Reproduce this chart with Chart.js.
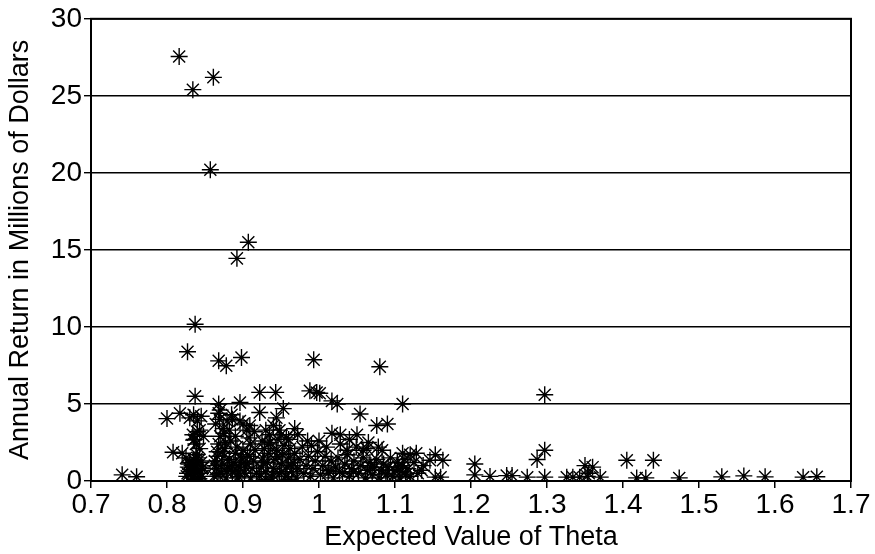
<!DOCTYPE html>
<html>
<head>
<meta charset="utf-8">
<script src="https://cdn.jsdelivr.net/npm/chart.js@4/dist/chart.umd.min.js"></script>
<style>
  html, body { margin: 0; padding: 0; background: #fff; }
  #wrap { width: 875px; height: 554px; }
</style>
</head>
<body>
<div id="wrap"><canvas id="thetaChart" width="875" height="554"></canvas></div>
<script>
// values (x = expected theta, y = annual return, $M)
const thetaValues = [
  // isolated high points
  0.816, 0.861, 0.834, 0.857, 0.907, 0.892, 0.837, 0.827, 0.868, 0.878, 0.898, 0.993, 1.080, 1.297,
  // around 5
  0.837, 0.922, 0.943, 0.988, 0.997, 1.001, 1.017, 1.024, 1.110, 0.868, 0.896,
  // around 4
  0.800, 0.817, 0.830, 0.835, 0.840, 0.845, 0.868, 0.879, 0.896, 0.909, 0.922, 0.953, 0.944, 0.940,
  1.054, 1.076, 1.090, 0.870, 0.885,
  // around 3
  0.840, 0.835, 0.968, 1.017, 1.028, 1.050, 0.875, 0.890, 0.905, 0.930, 0.950, 0.960, 0.925, 0.910,
  // around 2
  1.000, 0.990, 1.037, 1.063, 1.078, 1.083, 1.058, 0.808, 0.820,
  // around 1-2, right of the main mass
  1.110, 1.120, 1.128, 1.153, 1.163, 1.146, 1.137, 1.135, 1.205, 1.205, 1.160, 1.153,
  // bottom row, right side
  1.225, 1.247, 1.254, 1.274, 1.287, 1.297, 1.297, 1.326, 1.334, 1.343, 1.353, 1.350, 1.360, 1.355,
  1.370, 1.405, 1.418, 1.430, 1.440, 1.474, 1.530, 1.559, 1.587, 1.637, 1.655,
  // bottom row, far left
  0.741, 0.760,
  // cluster near 0.83
  0.825, 0.830, 0.828, 0.832, 0.826, 0.835, 0.838, 0.840, 0.836, 0.842, 0.845, 0.847, 0.844, 0.833,
  0.829, 0.839, 0.846, 0.831, 0.841, 0.837, 0.843, 0.838, 0.848, 0.834,
  0.827, 0.833, 0.840, 0.846, 0.836, 0.843,
  // cluster 0.86 - 0.92
  0.862, 0.865, 0.863, 0.866, 0.868, 0.870, 0.872, 0.875, 0.876, 0.878, 0.880, 0.882, 0.884, 0.886,
  0.888, 0.890, 0.892, 0.894, 0.896, 0.898, 0.900, 0.902, 0.904, 0.906, 0.908, 0.910, 0.912, 0.914,
  0.916, 0.918, 0.870, 0.874, 0.864, 0.882, 0.886, 0.900, 0.915, 0.869,
  0.863, 0.867, 0.873, 0.879, 0.885, 0.891, 0.897, 0.903, 0.909, 0.877, 0.866, 0.893,
  // cluster 0.92 - 1.0
  0.922, 0.924, 0.926, 0.928, 0.930, 0.932, 0.934, 0.936, 0.938, 0.940, 0.942, 0.944, 0.946, 0.948,
  0.950, 0.952, 0.954, 0.956, 0.958, 0.960, 0.962, 0.964, 0.966, 0.968, 0.970, 0.972, 0.975, 0.978,
  0.980, 0.983, 0.986, 0.989, 0.992, 0.995, 0.998, 0.935, 0.948, 0.957, 0.972, 0.985, 0.930, 0.960,
  0.927, 0.939, 0.951, 0.963, 0.945, 0.933,
  // cluster 1.0 - 1.13
  1.002, 1.005, 1.008, 1.010, 1.013, 1.016, 1.019, 1.022, 1.025, 1.028, 1.031, 1.034, 1.037, 1.040,
  1.043, 1.046, 1.049, 1.052, 1.055, 1.058, 1.061, 1.064, 1.067, 1.070, 1.073, 1.076, 1.079, 1.082,
  1.085, 1.088, 1.091, 1.094, 1.097, 1.100, 1.103, 1.106, 1.108, 1.110, 1.112, 1.114, 1.117, 1.120,
  1.125, 1.130, 1.040, 1.065,
  1.012, 1.027, 1.045, 1.068, 1.090, 1.104
];
const returnValues = [
  27.55, 26.2, 25.4, 20.2, 15.5, 14.45, 10.17, 8.39, 7.8, 7.48, 8.02, 7.87, 7.42, 5.6,
  5.5, 5.75, 5.75, 5.85, 5.75, 5.7, 5.2, 5.0, 5.0, 5.0, 5.1,
  4.05, 4.4, 4.1, 4.3, 3.9, 4.2, 4.4, 3.9, 3.9, 3.6, 4.45, 4.7, 4.1, 3.6,
  4.35, 3.6, 3.7, 4.6, 4.3,
  3.2, 2.65, 3.4, 3.1, 3.0, 3.0, 3.1, 2.9, 3.3, 3.3, 3.0, 2.7, 2.6, 2.4,
  2.6, 2.3, 2.0, 2.1, 2.2, 2.0, 2.0, 1.87, 1.8,
  1.8, 1.7, 1.8, 1.7, 1.35, 1.35, 1.0, 0.7, 1.1, 0.4, 0.25, 0.25,
  0.3, 0.35, 0.35, 0.25, 1.4, 2.0, 0.25, 0.25, 0.25, 0.25, 0.3, 1.0, 0.9, 0.5,
  0.25, 1.35, 0.2, 0.2, 1.35, 0.2, 0.27, 0.33, 0.27, 0.25, 0.28,
  0.4, 0.28,
  1.5, 1.2, 0.9, 0.6, 0.3, 1.4, 1.0, 0.7, 0.4, 0.15, 1.2, 0.9, 0.5, 0.2,
  1.1, 1.7, 0.3, 0.75, 1.3, 0.1, 2.1, 2.4, 2.9, 3.0,
  0.5, 1.0, 1.5, 0.8, 2.7, 3.3,
  0.3, 0.8, 1.3, 1.9, 2.4, 0.5, 1.1, 1.6, 2.1, 0.2, 0.9, 1.4, 2.6, 0.6,
  1.2, 1.8, 2.2, 0.3, 0.9, 1.5, 2.0, 0.5, 1.1, 1.7, 2.8, 0.2, 0.8, 1.3,
  2.0, 0.5, 2.9, 3.4, 3.7, 3.3, 4.0, 3.7, 3.2, 4.0,
  1.0, 0.4, 1.9, 0.6, 1.0, 0.7, 1.2, 0.9, 1.6, 2.5, 1.6, 0.2,
  0.3, 0.9, 1.5, 2.1, 0.6, 1.2, 1.8, 2.5, 0.2, 0.8, 1.4, 2.0, 2.7, 0.5,
  1.1, 1.7, 2.3, 0.3, 0.9, 1.5, 2.1, 0.6, 1.2, 1.8, 0.2, 0.8, 1.4, 2.2,
  0.5, 1.0, 1.6, 0.3, 0.8, 1.3, 1.9, 3.0, 3.3, 2.8, 3.0, 2.6, 0.1, 0.1,
  1.2, 0.4, 0.6, 1.0, 1.6, 2.4,
  0.4, 1.0, 1.6, 2.2, 0.7, 1.3, 0.2, 0.9, 1.5, 2.4, 0.5, 1.1, 1.7, 0.3,
  0.8, 1.3, 2.2, 0.5, 1.0, 1.5, 0.2, 0.7, 1.2, 0.4, 0.9, 1.4, 0.2, 0.7,
  1.1, 0.4, 0.9, 1.5, 0.3, 0.7, 1.2, 0.2, 0.6, 1.0, 1.4, 0.4, 0.8, 0.3,
  1.2, 0.5, 2.7, 2.5,
  0.5, 0.6, 0.6, 0.9, 0.5, 0.9
];

const xTicks = [0.7, 0.8, 0.9, 1, 1.1, 1.2, 1.3, 1.4, 1.5, 1.6, 1.7];
const yTicks = [0, 5, 10, 15, 20, 25, 30];

const points = thetaValues.map((x, i) => ({ x: x, y: returnValues[i] }));

const FONT = "'Liberation Sans', Arial, Helvetica, sans-serif";

// plain box around the plot area (top and right edges)
const frame = {
  id: 'frame',
  afterDraw(chart) {
    const a = chart.chartArea, ctx = chart.ctx;
    ctx.save();
    ctx.strokeStyle = '#000';
    ctx.lineWidth = 2;
    ctx.strokeRect(a.left, a.top, a.right - a.left, a.bottom - a.top);
    ctx.restore();
  }
};

new Chart('thetaChart', {
  type: 'scatter',
  data: {
    datasets: [{
      data: points,
      pointStyle: 'star',
      pointRadius: 8.5,
      pointHoverRadius: 8.5,
      borderColor: '#000',
      backgroundColor: '#000',
      borderWidth: 1.4,
    }]
  },
  options: {
    responsive: false,
    animation: false,
    events: [],
    layout: { padding: { top: 17, right: 24, left: 0, bottom: 0 } },
    plugins: { legend: { display: false }, tooltip: { enabled: false } },
    scales: {
      x: {
        type: 'linear',
        min: 0.7, max: 1.7,
        afterBuildTicks: (s) => { s.ticks = xTicks.map(v => ({ value: v })); },
        afterFit: (s) => { s.height = 73; },
        grid: { drawOnChartArea: false, drawTicks: true, tickLength: 7, color: '#000', lineWidth: 1.5 },
        border: { display: true, color: '#000', width: 2 },
        ticks: {
          color: '#000', padding: 0,
          font: { family: FONT, size: 28 },
          callback: (v) => String(+(+v).toFixed(1))
        },
        title: {
          display: true, text: 'Expected Value of Theta', color: '#000',
          font: { family: FONT, size: 27 }, padding: { top: 2, bottom: 0 }
        }
      },
      y: {
        min: 0, max: 30,
        afterBuildTicks: (s) => { s.ticks = yTicks.map(v => ({ value: v })); },
        afterFit: (s) => { s.width = 91; },
        grid: { color: '#000', lineWidth: 1.4, tickLength: 7 },
        border: { display: true, color: '#000', width: 2 },
        ticks: {
          color: '#000', padding: 2,
          font: { family: FONT, size: 28 }
        },
        title: {
          display: true, text: 'Annual Return in Millions of Dollars', color: '#000',
          font: { family: FONT, size: 27 }, padding: { top: 4, bottom: 0 }
        }
      }
    }
  },
  plugins: [frame]
});
</script>
</body>
</html>
